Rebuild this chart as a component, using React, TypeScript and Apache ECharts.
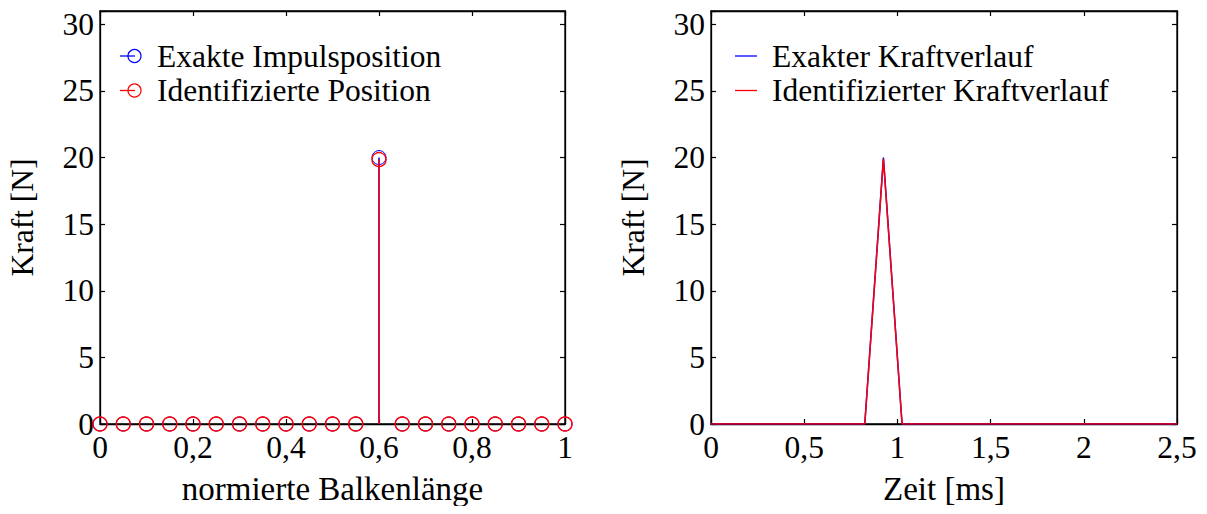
import React, { useEffect, useRef } from "react";
import * as echarts from "echarts";

// ---- data ----
const positions = [0, 0.05, 0.1, 0.15, 0.2, 0.25, 0.3, 0.35, 0.4, 0.45, 0.5, 0.55, 0.6, 0.65, 0.7, 0.75, 0.8, 0.85, 0.9, 0.95, 1];
const exactPosForce = [0, 0, 0, 0, 0, 0, 0, 0, 0, 0, 0, 0, 20, 0, 0, 0, 0, 0, 0, 0, 0];
const identPosForce = [0, 0, 0, 0, 0, 0, 0, 0, 0, 0, 0, 0, 19.85, 0, 0, 0, 0, 0, 0, 0, 0];

const timeMs = [0, 0.825, 0.925, 1.025, 2.5];
const exactForce = [0, 0, 20, 0, 0];
const identForce = [0, 0, 19.9, 0, 0];

const yTicks = [0, 5, 10, 15, 20, 25, 30];
const leftLegend = ["Exakte Impulsposition", "Identifizierte Position"];
const rightLegend = ["Exakter Kraftverlauf", "Identifizierter Kraftverlauf"];
const leftXName = "normierte Balkenlänge";
const rightXName = "Zeit [ms]";
const yName = "Kraft [N]";

const BLUE = "#0000ff";
const RED = "#ff0000";
const FONT = "Liberation Serif";
const FS = 31.5;

const fmt = (v: number) => {
  const r = Number(v.toFixed(3));
  return String(r).replace(".", ",");
};

export default function App() {
  const ref = useRef<HTMLDivElement>(null);
  useEffect(() => {
    if (!ref.current) return;
    const chart = echarts.init(ref.current, undefined, { renderer: "svg" });

    const grids = [
      { left: 100, top: 11, width: 465, height: 413, show: true, borderColor: "#000", borderWidth: 1.3, backgroundColor: "#fff" },
      { left: 711, top: 11, width: 466, height: 413, show: true, borderColor: "#000", borderWidth: 1.3, backgroundColor: "#fff" },
    ];

    const labelStyle = { color: "#000", fontFamily: FONT, fontSize: FS };
    const tick = { show: true, inside: true, length: 5, lineStyle: { color: "#000", width: 1.2 } };
    const line = { show: true, onZero: false, lineStyle: { color: "#000", width: 1.3 } };

    const mkX = (gi: number, max: number, interval: number, name: string) => [
      {
        type: "value", gridIndex: gi, min: 0, max, interval, position: "bottom",
        axisLine: line, axisTick: tick, splitLine: { show: false },
        axisLabel: { ...labelStyle, margin: 7, formatter: fmt },
        name, nameLocation: "middle", nameGap: 48,
        nameTextStyle: { ...labelStyle, fontSize: 33 },
      },
      {
        type: "value", gridIndex: gi, min: 0, max, interval, position: "top",
        axisLine: line, axisTick: tick, splitLine: { show: false }, axisLabel: { show: false },
      },
    ];
    const mkY = (gi: number) => [
      {
        type: "value", gridIndex: gi, min: 0, max: 31, interval: 5, position: "left",
        axisLine: line, axisTick: tick, splitLine: { show: false },
        axisLabel: { ...labelStyle, margin: 6, formatter: (v: number) => (yTicks.includes(v) ? String(v) : "") },
        name: yName, nameLocation: "middle", nameGap: 62,
        nameTextStyle: { ...labelStyle },
      },
      {
        type: "value", gridIndex: gi, min: 0, max: 31, interval: 5, position: "right",
        axisLine: line, axisTick: tick, splitLine: { show: false }, axisLabel: { show: false },
      },
    ];

    const stem = (color: string, cw: number) => (params: any, api: any) => {
      const x = api.value(0);
      const y = api.value(1);
      const p0 = api.coord([x, 0]);
      const p1 = api.coord([x, y]);
      return {
        type: "group",
        children: [
          { type: "line", shape: { x1: p0[0], y1: p0[1], x2: p1[0], y2: p1[1] }, style: { stroke: color, lineWidth: 1.5 } },
          { type: "circle", shape: { cx: p1[0], cy: p1[1], r: 7 }, style: { fill: "none", stroke: color, lineWidth: cw } },
        ],
      };
    };

    const legendGraphic = (x0: number, lineEnd: number, textX: number, names: string[], colors: string[], circle: boolean) => {
      const els: any[] = [];
      names.forEach((n, i) => {
        const cy = 56 + i * 34.5;
        els.push({ type: "line", shape: { x1: x0, y1: cy, x2: lineEnd, y2: cy }, style: { stroke: colors[i], lineWidth: 1.3 }, z: 100 });
        if (circle) {
          els.push({ type: "circle", shape: { cx: 134.5, cy, r: 6.5 }, style: { fill: "none", stroke: colors[i], lineWidth: 1.2 }, z: 100 });
        }
        els.push({
          type: "text", x: textX, y: cy, z: 100,
          style: { text: n, fill: "#000", font: `${FS}px ${FONT}`, textVerticalAlign: "middle", verticalAlign: "middle" },
        });
      });
      return els;
    };

    chart.setOption({
      animation: false,
      backgroundColor: "#fff",
      grid: grids,
      xAxis: [...mkX(0, 1, 0.2, leftXName), ...mkX(1, 2.5, 0.5, rightXName)],
      yAxis: [...mkY(0), ...mkY(1)],
      series: [
        { type: "custom", name: leftLegend[0], xAxisIndex: 0, yAxisIndex: 0, data: positions.map((p, i) => [p, exactPosForce[i]]), renderItem: stem(BLUE, 1.0), z: 3 },
        { type: "custom", name: leftLegend[1], xAxisIndex: 0, yAxisIndex: 0, data: positions.map((p, i) => [p, identPosForce[i]]), renderItem: stem(RED, 1.4), z: 4 },
        { type: "line", name: rightLegend[0], xAxisIndex: 2, yAxisIndex: 2, data: timeMs.map((t, i) => [t, exactForce[i]]), showSymbol: false, lineStyle: { color: BLUE, width: 1.5 }, itemStyle: { color: BLUE }, z: 3 },
        { type: "line", name: rightLegend[1], xAxisIndex: 2, yAxisIndex: 2, data: timeMs.map((t, i) => [t, identForce[i]]), showSymbol: false, lineStyle: { color: RED, width: 1.5 }, itemStyle: { color: RED }, z: 4 },
      ],
      graphic: [
        ...legendGraphic(120, 135, 157, leftLegend, [BLUE, RED], true),
        ...legendGraphic(735, 757, 772, rightLegend, [BLUE, RED], false),
      ],
    });
    return () => chart.dispose();
  }, []);
  return <div ref={ref} style={{ width: 1207, height: 514, margin: -8 }} />;
}
